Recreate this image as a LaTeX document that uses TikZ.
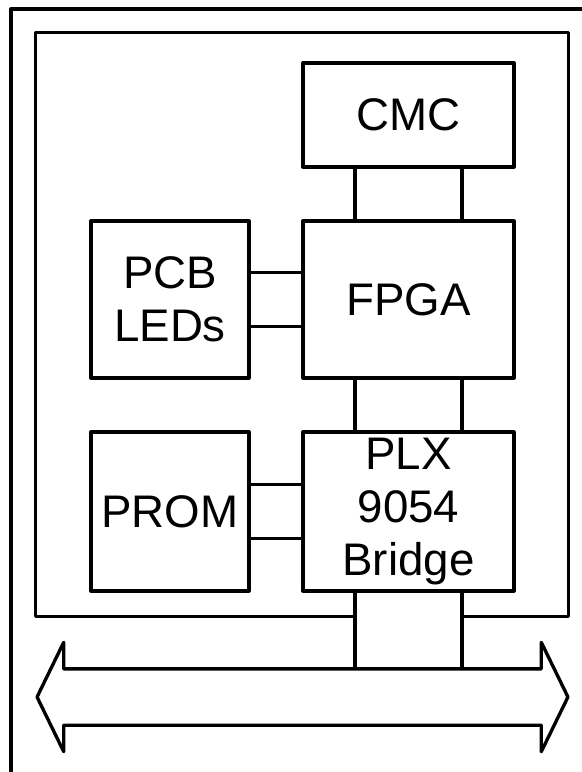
\documentclass[tikz,border=0pt]{standalone}
\usepackage{fontspec}
\setmainfont{Liberation Sans}
\usetikzlibrary{shapes, arrows, positioning, calc}

\begin{document}
\begin{tikzpicture}[x=0.02cm, y=-0.02cm, line width=1.9pt, line join=round]
    \tikzstyle{block} = [draw, rectangle, inner sep=0pt, align=center, font=\fontsize{26}{30}\selectfont]
    \tikzstyle{wide} = [block, minimum width=4.22cm]
    \tikzstyle{narrow} = [block, minimum width=3.16cm]

    \clip (0,0) rectangle (582,772);
    % outer frame, cut off at the right and bottom
    \draw (11,800) -- (11,9) -- (600,9);

    \node[rectangle, minimum width=10.6cm, minimum height=11.62cm] (board) at (302,324.5) {};

    \node[wide, minimum height=2.08cm] (cmc) at (408.5,115) {CMC};
    \node[wide, minimum height=3.14cm] (fpga) at (408.5,299.5) {FPGA};
    \node[narrow, minimum height=3.14cm] (leds) at (170,299.5) {PCB\\LEDs};
    \node[narrow, minimum height=3.18cm] (prom) at (170,511.5) {PROM};
    \node[wide, minimum height=3.18cm] (plx) at (408.5,511.5) {PLX\\9054\\Bridge};

    \node[draw, double arrow, double arrow head extend=0.53cm, double arrow tip angle=128,
          inner xsep=0pt, inner ysep=0.53cm, minimum height=10.62cm] (bus) at (302.5,697) {};
    \coordinate (bustop) at (302.5,670);

    \coordinate (plxl) at ($(plx.south west)!0.25!(plx.south east)$);
    \coordinate (plxr) at ($(plx.south west)!0.75!(plx.south east)$);

    % board outline, open where the bus connector leaves it
    \draw (plxl |- board.south) -- (board.south west) -- (board.north west)
          -- (board.north east) -- (board.south east) -- (plxr |- board.south);

    \draw ($(cmc.south west)!0.25!(cmc.south east)$) -- ($(fpga.north west)!0.25!(fpga.north east)$);
    \draw ($(cmc.south west)!0.75!(cmc.south east)$) -- ($(fpga.north west)!0.75!(fpga.north east)$);
    \draw ($(fpga.south west)!0.25!(fpga.south east)$) -- ($(plx.north west)!0.25!(plx.north east)$);
    \draw ($(fpga.south west)!0.75!(fpga.south east)$) -- ($(plx.north west)!0.75!(plx.north east)$);
    \draw ($(leds.north east)!0.333!(leds.south east)$) -- ($(fpga.north west)!0.333!(fpga.south west)$);
    \draw ($(leds.north east)!0.667!(leds.south east)$) -- ($(fpga.north west)!0.667!(fpga.south west)$);
    \draw ($(prom.north east)!0.333!(prom.south east)$) -- ($(plx.north west)!0.333!(plx.south west)$);
    \draw ($(prom.north east)!0.667!(prom.south east)$) -- ($(plx.north west)!0.667!(plx.south west)$);
    \draw (plxl) -- (plxl |- bustop);
    \draw (plxr) -- (plxr |- bustop);
\end{tikzpicture}
\end{document}
